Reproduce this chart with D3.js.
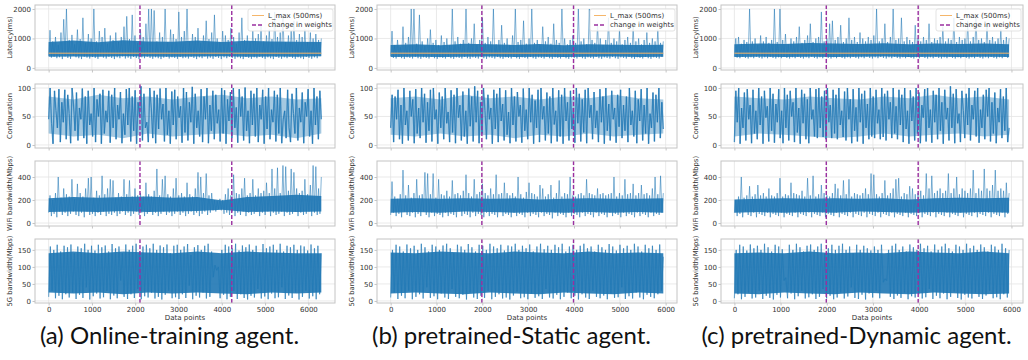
<!DOCTYPE html>
<html>
<head>
<meta charset="utf-8">
<script src="https://cdn.jsdelivr.net/npm/d3@7"></script>
<style>
  body { margin: 0; background: #fff; }
  text { font-family: "DejaVu Sans", sans-serif; }
</style>
</head>
<body>
<svg id="chart" width="1028" height="360"></svg>
<script>
// ---- data ----
const captions = ["(a) Online-training agent.", "(b) pretrained-Static agent.", "(c) pretrained-Dynamic agent."];
const rowLabels = ["Latency(ms)", "Configuration", "WiFi bandwidth(Mbps)", "5G bandwidth(Mbps)"];
const nPoints = [6300, 5950, 5950];
const changePoints = [[2110, 4230], [1990, 3990], [1990, 3980]];
const lMax = 500;
const xTicks = [0, 1000, 2000, 3000, 4000, 5000, 6000];
const yTicks = [[0, 1000, 2000], [0, 50, 100], [0, 200, 400], [0, 50, 100, 150]];
const legendLabels = ["L_max (500ms)", "change in weights"];

// latency (ms)
const latA = [410,1280, 350,900, 380,1050, 330,780, 360,1200, 300,1650, 390,2000, 340,950, 310,1120, 420,800,
  360,1300, 330,980, 300,1700, 380,850, 350,1150, 320,1000, 370,2000, 340,900, 310,1250, 400,1050,
  350,1350, 320,820, 380,1100, 340,950, 300,1200, 360,880, 330,1050, 390,1400, 320,1750, 350,980,
  310,1800, 370,1100, 340,850, 300,1300, 360,1050, 330,1500, 380,2000, 340,2000, 310,1950, 360,900,
  330,1200, 300,1050, 350,2000, 380,880, 320,1300, 360,1150, 340,980, 310,1900, 370,1050, 330,1250,
  350,2000, 320,900, 380,1150, 340,1050, 300,1350, 360,850, 330,1100, 390,1600, 320,980, 350,1200,
  310,1800, 370,1000, 340,880, 300,1250, 360,1100, 330,950, 380,1350, 340,1050, 310,820, 360,1200,
  330,1700, 300,950, 370,1100, 340,880, 310,1250, 360,1000, 330,1150, 380,1450, 340,900, 310,1100,
  360,1300, 330,980, 300,1900, 370,1050, 340,1200, 310,1800, 360,880, 330,1100, 380,1250, 340,1600,
  310,950, 360,1150, 330,1050, 300,1300, 370,880, 340,1200, 310,1000, 360,1150, 330,950, 400,1000];
const latB = [400,1250, 340,780, 320,950, 370,700, 330,1400, 310,850, 360,1050, 340,2000, 320,2000, 370,820,
  330,1800, 310,900, 360,750, 340,1000, 320,1300, 370,850, 330,950, 310,780, 360,1100, 340,880,
  320,1000, 370,760, 330,2000, 310,900, 360,1050, 340,820, 320,950, 370,2000, 330,850, 310,1000,
  360,1500, 340,780, 320,950, 370,1700, 330,850, 310,1050, 360,900, 340,2000, 320,800, 370,950,
  330,1450, 310,850, 360,1000, 340,780, 320,1100, 370,2000, 330,880, 310,950, 360,1600, 340,820,
  320,1000, 370,2000, 330,850, 310,950, 360,780, 340,1400, 320,900, 370,1050, 330,820, 310,1500,
  360,950, 340,850, 320,2000, 370,1000, 330,800, 310,950, 360,1100, 340,850, 320,2000, 370,900,
  330,1000, 310,800, 360,2000, 340,950, 320,850, 370,1500, 330,1000, 310,780, 360,950, 340,1700,
  320,850, 370,1000, 330,900, 310,1300, 360,800, 340,950, 320,1050, 370,850, 330,1400, 310,900,
  360,1000, 340,800, 320,950, 370,1200, 330,850, 310,1000, 360,900, 340,1300, 320,850, 370,900];
const latC = [380,1000, 350,1050, 330,820, 370,950, 340,880, 320,2000, 360,900, 330,1000, 380,780, 340,1100,
  320,900, 360,1050, 330,850, 370,950, 340,2000, 320,880, 360,2000, 330,950, 380,1150, 340,800,
  320,1000, 360,900, 330,1050, 370,1400, 340,850, 320,950, 360,1100, 330,1500, 380,880, 340,1000,
  320,1050, 360,1900, 330,900, 370,1000, 340,1500, 320,1600, 360,950, 330,1050, 380,1450, 340,880,
  320,1000, 360,1700, 330,950, 370,1050, 340,880, 320,1200, 360,1000, 330,900, 380,1050, 340,950,
  320,1100, 360,2000, 330,900, 370,1000, 340,1500, 320,880, 360,1050, 330,2000, 380,950, 340,1000,
  320,1700, 360,900, 330,1050, 370,950, 340,880, 320,1450, 360,1000, 330,900, 380,1050, 340,950,
  320,1500, 360,880, 330,1000, 370,950, 340,1050, 320,1400, 360,900, 330,1000, 380,950, 340,1700,
  320,880, 360,1050, 330,950, 370,1000, 340,1600, 320,900, 360,1050, 330,1750, 380,950, 340,1000,
  320,880, 360,1500, 330,950, 370,1050, 340,900, 320,1000, 360,1300, 330,950, 380,1050, 340,1000];
// packed core of each latency trace
const latLoA = [380, 390, 380, 400, 390, 380, 390, 400, 380, 390, 380, 400];
const latHiA = [880, 930, 870, 940, 900, 890, 930, 880, 920, 900, 890, 880];
const latLoB = [370, 380, 370, 380, 390, 370, 380, 370, 380, 390, 370, 380];
const latHiB = [780, 800, 770, 820, 800, 780, 810, 770, 800, 790, 780, 790];
const latLoC = [370, 380, 370, 380, 370, 380, 390, 370, 380, 370, 380, 370];
const latHiC = [800, 830, 810, 850, 830, 810, 840, 800, 830, 810, 830, 800];

// configuration (0-100)
const cfgA = [45,100, 38,2, 95,60, 30,98, 5,75, 40,97, 10,88, 55,3, 100,70, 25,92, 8,65, 45,99, 12,85, 2,95, 35,55,
  15,100, 5,80, 50,90, 2,97, 20,60, 40,95, 4,88, 30,100, 10,70, 45,93, 3,55, 18,98, 35,100, 6,85, 25,96,
  2,75, 50,103, 8,90, 30,40, 5,100, 65,12, 95,3, 88,28, 99,45, 72,6, 100,18, 60,2, 94,35, 97,10, 85,48,
  68,4, 100,22, 93,8, 75,40, 102,2, 90,30, 60,15, 98,5, 85,45, 100,3, 70,25, 95,10, 88,38, 62,6, 100,20,
  96,2, 80,42, 93,12, 100,30, 66,4, 98,50, 85,8, 101,25, 60,3, 95,35, 90,15, 100,5, 70,45, 97,2, 85,28,
  100,10, 62,40, 95,6, 88,20, 100,3, 45,60, 12,97, 30,5, 90,55, 20,100, 8,65, 40,92, 3,75, 50,98, 15,60,
  2,100, 35,85, 10,95, 45];
const cfgB = [30,88, 5,85, 45,97, 10,70, 2,100, 35,60, 8,95, 50,80, 3,98, 20,65, 12,100, 40,90, 4,75, 25,97, 6,100,
  45,62, 2,92, 30,85, 10,100, 38,58, 5,96, 22,88, 3,100, 48,70, 8,94, 15,60, 2,99, 33,85, 6,103, 40,95,
  3,75, 20,100, 60,10, 88,45, 65,2, 97,28, 90,5, 100,42, 72,8, 96,18, 58,3, 100,35, 85,6, 93,50, 70,4,
  99,25, 62,10, 100,40, 88,2, 78,30, 97,5, 100,45, 68,8, 92,20, 85,3, 100,36, 60,6, 96,15, 88,2, 100,42,
  75,8, 95,28, 65,4, 100,38, 90,6, 80,22, 97,3, 100,48, 70,10, 93,30, 60,5, 98,40, 85,2, 100,25, 72,8,
  95,45, 65,4, 88,32, 97,12, 70,25, 85,5, 100,35, 60,15, 95,3, 80,42, 98,8, 70,20, 100,2, 55,30, 92,6,
  88,40, 100,12, 75,28];
const cfgC = [5,95, 40,100, 2,65, 30,92, 8,98, 45,70, 3,97, 20,60, 10,100, 35,85, 2,95, 48,68, 6,100, 25,90, 4,72,
  40,98, 12,60, 3,100, 30,88, 8,95, 50,75, 5,100, 22,65, 2,97, 38,90, 10,80, 3,100, 45,62, 15,98, 12,100,
  30,85, 14,95, 10,100, 40,70, 12,97, 20,88, 10,100, 35,60, 14,94, 8,100, 45,80, 3,98, 25,66, 6,100,
  40,90, 2,95, 30,72, 10,100, 15,85, 12,97, 38,62, 10,100, 14,90, 8,95, 45,75, 12,100, 20,68, 10,97,
  35,88, 5,100, 28,60, 2,96, 42,85, 8,100, 20,92, 3,70, 48,98, 6,100, 30,62, 4,95, 40,88, 10,100, 25,75,
  2,97, 45,65, 8,103, 30,90, 3,98, 38,55, 5,95, 60,12, 90,35, 100,8, 70,45, 95,15, 100,4, 62,30, 88,10,
  97,50, 100,6, 75,20, 92,3, 65,40, 98,12, 85,25, 100,5, 30];
const cfgLoA = [20, 15, 18, 12, 20, 15, 18, 20, 15, 18, 12, 20];
const cfgHiA = [85, 80, 88, 82, 85, 80, 85, 88, 82, 85, 80, 82];
const cfgLoB = [18, 15, 20, 15, 18, 12, 18, 15, 20, 15, 18, 20];
const cfgHiB = [82, 85, 80, 88, 82, 85, 80, 85, 82, 88, 82, 80];
const cfgLoC = [15, 20, 18, 15, 12, 15, 20, 15, 18, 20, 15, 18];
const cfgHiC = [85, 82, 80, 85, 82, 80, 85, 82, 88, 82, 85, 80];

// WiFi bandwidth (Mbps)
const wifiA = [90,240, 60,200, 80,260, 50,400, 100,220, 70,300, 90,250, 60,230, 80,380, 100,210,
  70,340, 60,260, 90,230, 50,300, 100,390, 70,400, 80,220, 60,280, 90,240, 70,410,
  100,250, 60,300, 80,380, 70,370, 90,220, 60,260, 80,230, 100,380, 70,250, 90,370,
  60,230, 80,300, 100,240, 70,260, 90,230, 60,350, 80,250, 100,230, 70,280, 90,470,
  60,240, 80,380, 100,410, 70,250, 90,230, 60,300, 80,390, 100,240, 70,260, 90,230,
  60,350, 80,250, 100,230, 70,300, 90,440, 60,400, 80,260, 100,430, 70,240, 90,260,
  110,200, 100,190, 120,210, 110,200, 80,250, 90,300, 70,240, 100,420, 60,260, 90,250,
  70,300, 100,390, 60,240, 90,260, 70,380, 80,240, 100,300, 60,260, 90,280, 70,350,
  100,260, 60,470, 90,300, 70,480, 80,260, 100,500, 60,490, 90,280, 70,470, 80,440,
  100,300, 60,260, 90,280, 70,380, 80,250, 100,330, 60,500, 90,490, 70,300, 80,400];
const wifiB = [70,360, 90,230, 60,210, 80,250, 50,460, 100,240, 70,330, 60,220, 90,260, 50,380,
  80,240, 60,250, 100,440, 70,430, 50,250, 90,430, 60,220, 80,380, 70,250, 50,240,
  90,280, 60,230, 80,370, 70,250, 50,260, 100,240, 60,280, 80,420, 70,260, 50,230,
  90,380, 60,250, 80,270, 70,340, 50,260, 90,240, 60,300, 80,250, 70,420, 50,250,
  100,260, 60,350, 80,260, 70,240, 50,260, 90,230, 60,400, 80,250, 70,220, 50,270,
  90,350, 60,260, 80,250, 70,230, 50,330, 90,300, 60,230, 80,250, 70,330, 40,220,
  90,260, 60,370, 80,230, 70,260, 50,250, 90,400, 60,240, 80,230, 70,250, 50,260,
  90,240, 60,380, 80,260, 70,250, 50,240, 90,300, 60,250, 80,260, 70,240, 50,250,
  90,260, 60,400, 80,230, 70,260, 50,240, 90,380, 60,250, 80,260, 70,340, 50,240,
  90,260, 60,330, 80,250, 70,260, 50,240, 90,300, 60,400, 80,250, 70,410, 90,260];
const wifiC = [90,200, 60,230, 80,400, 50,220, 100,240, 70,320, 60,230, 90,250, 50,330, 80,240,
  70,260, 60,230, 90,300, 50,240, 80,230, 70,260, 60,390, 90,230, 50,250, 80,240,
  70,350, 60,260, 90,250, 50,240, 80,280, 70,230, 60,390, 90,240, 50,410, 80,230,
  70,250, 60,330, 90,260, 50,240, 80,230, 70,260, 60,340, 90,300, 50,240, 80,370,
  70,250, 60,380, 90,230, 50,260, 80,250, 70,240, 60,260, 90,300, 50,250, 80,430,
  70,420, 60,250, 90,230, 50,260, 80,370, 70,240, 60,260, 90,300, 50,380, 80,390,
  70,230, 60,260, 90,250, 50,320, 80,300, 70,250, 60,260, 90,280, 50,240, 80,430,
  70,300, 60,410, 90,260, 50,280, 80,300, 70,260, 60,280, 90,430, 50,260, 80,300,
  70,400, 60,250, 90,300, 50,280, 80,260, 70,300, 60,460, 90,260, 50,300, 80,280,
  70,470, 60,300, 90,280, 50,330, 80,460, 70,280, 60,300, 90,280, 50,350, 80,260];
const wifiLoA = [95, 100, 95, 105, 95, 100, 105, 115, 95, 100, 95, 100];
const wifiHiA = [215, 225, 220, 225, 230, 220, 225, 195, 225, 235, 245, 235];
const wifiLoB = [90, 95, 90, 100, 95, 90, 95, 90, 95, 90, 95, 90];
const wifiHiB = [210, 215, 210, 215, 210, 215, 205, 210, 215, 210, 210, 215];
const wifiLoC = [90, 95, 90, 95, 90, 100, 95, 90, 95, 90, 95, 90];
const wifiHiC = [205, 210, 215, 210, 215, 210, 215, 205, 215, 220, 215, 220];

// 5G bandwidth (Mbps)
const g5A = [12,160, 30,150, 8,165, 15,145, 5,162, 20,158, 10,166, 25,140, 6,160, 18,155, 9,168, 40,150,
  4,162, 14,148, 22,165, 7,158, 11,163, 30,145, 5,167, 16,155, 8,160, 60,140, 12,166, 6,150, 20,162,
  9,168, 35,145, 5,160, 14,165, 10,155, 24,168, 7,150, 12,163, 4,158, 18,166, 30,140, 8,162, 11,165,
  6,150, 20,160, 9,167, 45,135, 5,158, 15,164, 10,150, 25,162, 7,168, 12,145, 70,105, 90,100, 8,150,
  18,165, 5,160, 12,155, 30,168, 6,148, 20,163, 9,158, 4,166, 15,150, 10,162, 35,140, 7,167, 13,155,
  5,160, 22,165, 8,150, 11,168, 40,145, 6,162, 16,158, 9,165, 25,150, 4,163, 12,160, 30,148, 7,166,
  14,155, 5,162, 20,140];
const g5B = [10,150, 25,165, 6,160, 15,145, 8,166, 30,155, 5,162, 12,150, 20,168, 7,158, 40,145, 9,165,
  14,160, 5,150, 22,163, 10,168, 6,155, 35,140, 12,165, 8,160, 18,150, 4,167, 25,158, 10,145, 6,165,
  15,162, 9,150, 30,168, 5,160, 12,155, 20,165, 7,148, 10,163, 4,160, 16,168, 28,150, 8,162, 11,155,
  5,166, 22,145, 9,160, 14,168, 6,152, 35,162, 10,150, 7,165, 18,158, 5,168, 12,145, 25,160, 8,165,
  15,150, 4,162, 20,168, 10,155, 6,160, 30,145, 12,165, 8,158, 16,150, 5,167, 22,160, 9,148, 11,165,
  40,155, 6,162, 14,150, 7,168, 25,160, 10,145, 5,165, 18,155, 12,162, 8,150, 20,166, 30,130];
const g5C = [8,150, 20,165, 5,160, 12,148, 25,166, 7,155, 10,162, 30,150, 6,168, 15,158, 9,145, 4,165,
  18,160, 10,152, 60,68, 8,165, 22,150, 5,168, 14,158, 30,145, 7,162, 11,166, 20,150, 6,160, 12,168,
  35,140, 8,155, 15,165, 5,150, 10,162, 25,168, 7,150, 13,160, 40,140, 9,165, 6,150, 18,162, 4,155,
  22,148, 10,160, 30,150, 8,165, 55,65, 60,150, 12,162, 6,168, 16,150, 9,160, 25,145, 5,166, 14,158,
  10,150, 20,168, 7,155, 11,162, 35,145, 6,166, 15,150, 8,160, 22,168, 5,155, 12,145, 28,165, 9,160,
  4,150, 18,168, 10,155, 7,162, 25,150, 12,166, 6,158, 16,145, 30,165, 8,160, 11,150, 5,168, 20,155, 10,150];
const g5LoA = [25, 22, 25, 20, 25, 22, 25, 22, 20, 25, 22, 25];
const g5HiA = [140, 145, 140, 145, 142, 140, 145, 140, 145, 142, 140, 140];
const g5LoB = [22, 25, 22, 20, 25, 22, 20, 25, 22, 20, 25, 22];
const g5HiB = [142, 140, 145, 142, 140, 145, 142, 140, 145, 140, 142, 140];
const g5LoC = [22, 20, 25, 22, 20, 25, 22, 20, 25, 22, 20, 22];
const g5HiC = [140, 142, 140, 145, 140, 142, 140, 145, 142, 140, 145, 140];

const rows = [[latA, latB, latC], [cfgA, cfgB, cfgC], [wifiA, wifiB, wifiC], [g5A, g5B, g5C]];
const coreLo = [[latLoA, latLoB, latLoC], [cfgLoA, cfgLoB, cfgLoC], [wifiLoA, wifiLoB, wifiLoC], [g5LoA, g5LoB, g5LoC]];
const coreHi = [[latHiA, latHiB, latHiC], [cfgHiA, cfgHiB, cfgHiC], [wifiHiA, wifiHiB, wifiHiC], [g5HiA, g5HiB, g5HiC]];

// ---- layout and style ----
const colX = [[35, 335], [377, 677], [721, 1023]];
const rowY = [[5, 70], [84, 148], [161, 226], [239, 303]];
const xDomains = [[-315, 6615], [-298, 6248], [-290, 6250]];
const yDomains = [[-70, 2135], [-5.3, 107], [-26, 539], [-6, 182]];
const coreOpacity = [0.9, 0.4, 0.9, 0.9];
const lineWidth = [1, 1.3, 1, 1.1];
const lineOpacity = [0.55, 0.8, 0.55, 0.62];

const blue = "#1f77b4", orange = "#f5b66a", purple = "#9a2fa0";
const svg = d3.select("#chart");

colX.forEach((cx, c) => {
  const x = d3.scaleLinear().domain(xDomains[c]).range(cx);

  rowY.forEach((ry, r) => {
    const y = d3.scaleLinear().domain(yDomains[r]).range([ry[1], ry[0]]);
    const g = svg.append("g");
    const clipId = "clip" + c + r;
    g.append("clipPath").attr("id", clipId).append("rect")
      .attr("x", cx[0]).attr("y", ry[0]).attr("width", cx[1] - cx[0]).attr("height", ry[1] - ry[0]);

    // grid
    g.selectAll(".gx").data(xTicks).join("line")
      .attr("x1", d => x(d)).attr("x2", d => x(d)).attr("y1", ry[0]).attr("y2", ry[1])
      .attr("stroke", "#e4e4e4").attr("stroke-width", 0.8);
    g.selectAll(".gy").data(yTicks[r]).join("line")
      .attr("y1", d => y(d)).attr("y2", d => y(d)).attr("x1", cx[0]).attr("x2", cx[1])
      .attr("stroke", "#e4e4e4").attr("stroke-width", 0.8);

    const plot = g.append("g").attr("clip-path", "url(#" + clipId + ")");

    // packed core of the trace
    const lo = coreLo[r][c], hi = coreHi[r][c];
    const cs = (nPoints[c] - 1) / (lo.length - 1);
    plot.append("path")
      .datum(lo.map((v, i) => [i * cs, v, hi[i]]))
      .attr("fill", blue).attr("fill-opacity", coreOpacity[r])
      .attr("d", d3.area().x(d => x(d[0])).y0(d => y(d[1])).y1(d => y(d[2])));

    // series, one segment per step so overlaps deepen the colour
    const vals = rows[r][c];
    const step = (nPoints[c] - 1) / (vals.length - 1);
    const pts = vals.map((v, i) => [x(i * step), y(v)]);
    plot.selectAll("line.s").data(d3.pairs(pts)).join("line")
      .attr("x1", d => d[0][0]).attr("y1", d => d[0][1])
      .attr("x2", d => d[1][0]).attr("y2", d => d[1][1])
      .attr("stroke", blue)
      .attr("stroke-width", lineWidth[r])
      .attr("stroke-opacity", lineOpacity[r]);

    if (r === 0) {
      plot.append("line")
        .attr("x1", x(0)).attr("x2", x(nPoints[c]))
        .attr("y1", y(lMax)).attr("y2", y(lMax))
        .attr("stroke", orange).attr("stroke-width", 1);
    }

    plot.selectAll("line.cp").data(changePoints[c]).join("line")
      .attr("x1", d => x(d)).attr("x2", d => x(d)).attr("y1", ry[0]).attr("y2", ry[1])
      .attr("stroke", purple).attr("stroke-width", 1.4).attr("stroke-dasharray", "4,2");

    // frame
    g.append("rect")
      .attr("x", cx[0]).attr("y", ry[0]).attr("width", cx[1] - cx[0]).attr("height", ry[1] - ry[0])
      .attr("fill", "none").attr("stroke", "#c4c4c4").attr("stroke-width", 1);

    // axes
    const ya = g.append("g").attr("transform", "translate(" + cx[0] + ",0)")
      .call(d3.axisLeft(y).tickValues(yTicks[r]).tickSize(2.5).tickPadding(1.5).tickFormat(d3.format("d")));
    const xa = g.append("g").attr("transform", "translate(0," + ry[1] + ")")
      .call(d3.axisBottom(x).tickValues(xTicks).tickSize(2.5).tickPadding(1.5)
        .tickFormat(r === 3 ? d3.format("d") : () => ""));
    [ya, xa].forEach(a => {
      a.select(".domain").remove();
      a.selectAll(".tick line").attr("stroke", "#c4c4c4");
      a.selectAll(".tick text").attr("fill", "#333").style("font-size", "7px")
        .style("font-family", "DejaVu Sans");
    });

    g.append("text")
      .attr("transform", "translate(" + (cx[0] - 25) + "," + (ry[0] + ry[1]) / 2 + ") rotate(-90)")
      .attr("text-anchor", "middle").attr("dy", "0.35em")
      .attr("fill", "#333").style("font-size", "6.8px")
      .text(rowLabels[r]);

    if (r === 3) {
      g.append("text")
        .attr("x", (cx[0] + cx[1]) / 2).attr("y", ry[1] + 17)
        .attr("text-anchor", "middle").attr("fill", "#333").style("font-size", "7px")
        .text("Data points");
    }

    // legend
    if (r === 0) {
      const lx = cx[1] - 87, ly = ry[0] + 4;
      const lg = g.append("g");
      lg.append("rect").attr("x", lx).attr("y", ly).attr("width", 85).attr("height", 22).attr("rx", 2)
        .attr("fill", "#fff").attr("fill-opacity", 0.85).attr("stroke", "#dcdcdc").attr("stroke-width", 0.8);
      lg.append("line").attr("x1", lx + 4).attr("x2", lx + 16).attr("y1", ly + 6.5).attr("y2", ly + 6.5)
        .attr("stroke", orange).attr("stroke-width", 1);
      lg.append("line").attr("x1", lx + 4).attr("x2", lx + 16).attr("y1", ly + 16).attr("y2", ly + 16)
        .attr("stroke", purple).attr("stroke-width", 1.4).attr("stroke-dasharray", "4,2");
      lg.selectAll("text").data(legendLabels).join("text")
        .attr("x", lx + 20).attr("y", (d, i) => ly + 6.5 + i * 9.5).attr("dy", "0.35em")
        .attr("fill", "#333").style("font-size", "7px")
        .text(d => d);
    }
  });

  svg.append("text")
    .attr("x", (cx[0] - 35 + cx[1]) / 2 + 2).attr("y", 344)
    .attr("text-anchor", "middle").attr("fill", "#111")
    .style("font-family", "Lato, 'Open Sans', sans-serif").style("font-size", "24px")
    .text(captions[c]);
});
</script>
</body>
</html>
